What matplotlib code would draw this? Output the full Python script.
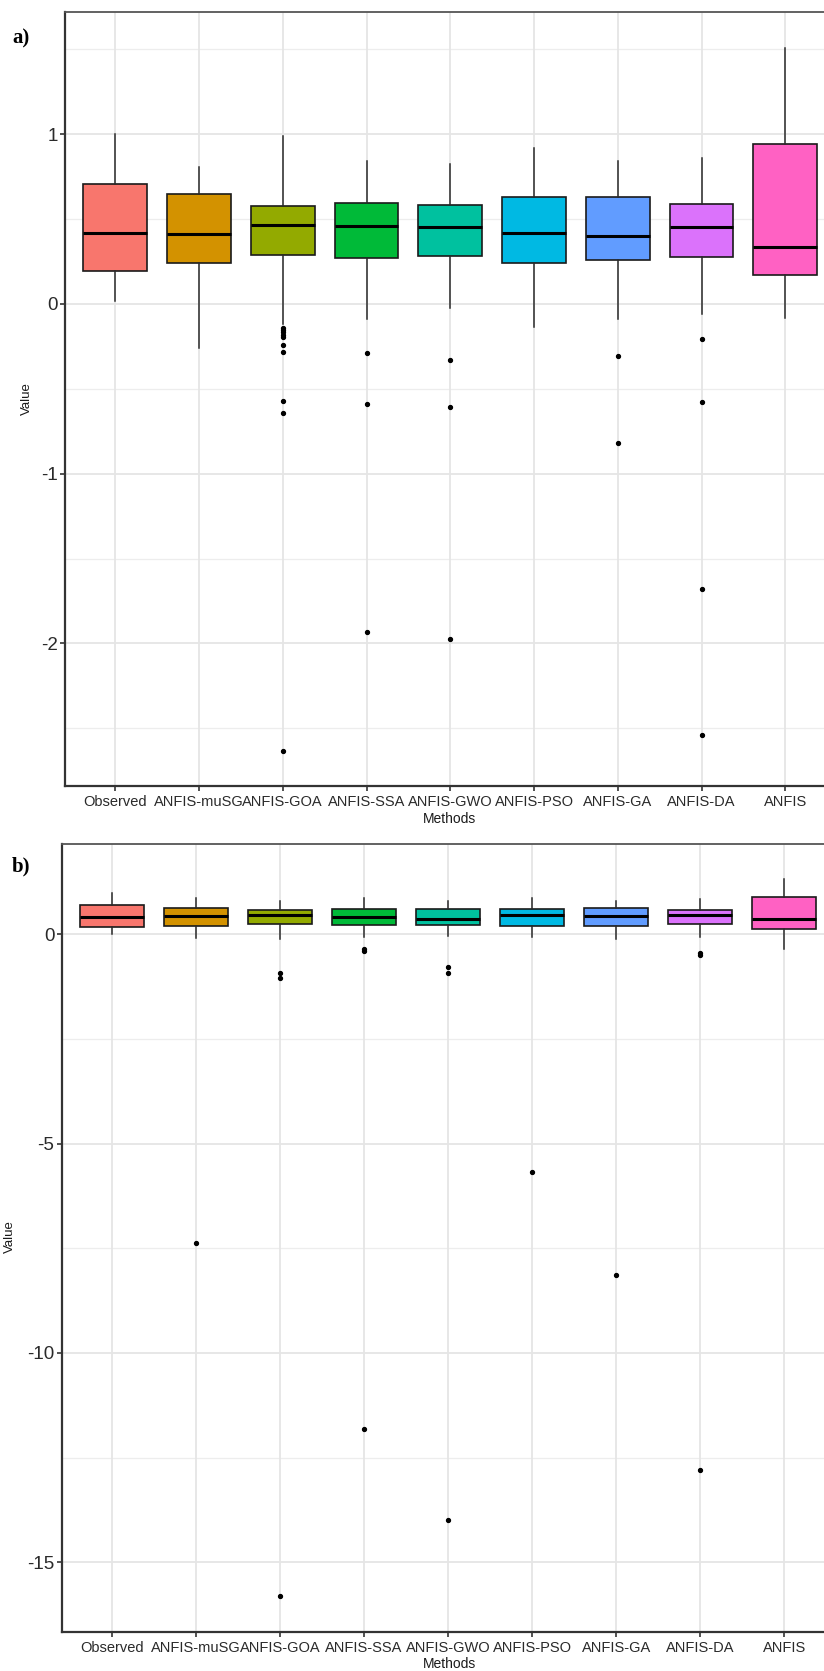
import matplotlib
matplotlib.use("Agg")
import matplotlib.pyplot as plt
from matplotlib.ticker import FixedLocator

plt.rcParams['font.family'] = ['Liberation Sans', 'DejaVu Sans']

methods = ["Observed", "ANFIS-muSG", "ANFIS-GOA", "ANFIS-SSA", "ANFIS-GWO",
           "ANFIS-PSO", "ANFIS-GA", "ANFIS-DA", "ANFIS"]
colors = ["#F8766D", "#D39200", "#93AA00", "#00BA38", "#00C19F",
          "#00B9E3", "#619CFF", "#DB72FB", "#FF61C3"]

# ---- panel a) ----
a_q1 = [0.196, 0.240, 0.291, 0.271, 0.285, 0.240, 0.257, 0.279, 0.169]
a_med = [0.420, 0.411, 0.464, 0.460, 0.456, 0.417, 0.403, 0.456, 0.338]
a_q3 = [0.709, 0.648, 0.578, 0.593, 0.583, 0.631, 0.631, 0.591, 0.943]
a_lo = [0.018, -0.261, -0.12, -0.088, -0.025, -0.137, -0.088, -0.061, -0.084]
a_hi = [1.000, 0.809, 0.990, 0.843, 0.823, 0.917, 0.843, 0.862, 1.510]
a_fliers = [
    [],
    [],
    [-0.143, -0.155, -0.168, -0.183, -0.196, -0.242, -0.285, -0.572, -0.642, -2.632],
    [-0.291, -0.587, -1.933],
    [-0.330, -0.609, -1.974],
    [],
    [-0.308, -0.817],
    [-0.204, -0.576, -1.679, -2.540],
    [],
]

# ---- panel b) ----
b_q1 = [0.17, 0.20, 0.25, 0.23, 0.23, 0.20, 0.20, 0.25, 0.13]
b_med = [0.42, 0.44, 0.47, 0.42, 0.37, 0.45, 0.43, 0.46, 0.36]
b_q3 = [0.70, 0.62, 0.58, 0.60, 0.60, 0.61, 0.64, 0.58, 0.88]
b_lo = [0.00, -0.10, -0.12, -0.06, -0.04, -0.07, -0.12, -0.07, -0.35]
b_hi = [0.98, 0.87, 0.80, 0.87, 0.80, 0.86, 0.80, 0.84, 1.31]
b_fliers = [
    [],
    [-7.37],
    [-0.92, -1.05, -15.80],
    [-0.35, -0.40, -11.81],
    [-0.79, -0.93, -13.98],
    [-5.68],
    [-8.13],
    [-0.45, -0.50, -12.79],
    [],
]

W, H = 824, 1671
fig = plt.figure(figsize=(W / 100, H / 100), dpi=100)
fig.patch.set_facecolor("white")


def px_axes(left, top, right, bottom):
    return fig.add_axes([left / W, 1 - bottom / H, (right - left) / W, (bottom - top) / H])


def draw_panel(ax, q1, med, q3, lo, hi, fliers, ylim, major, minor):
    stats = []
    for i in range(len(methods)):
        stats.append(dict(q1=q1[i], med=med[i], q3=q3[i], whislo=lo[i], whishi=hi[i],
                          fliers=fliers[i], label=methods[i]))
    pos = list(range(1, len(methods) + 1))
    # grid
    for y in minor:
        ax.axhline(y, color="#EDEDED", lw=0.9, zorder=0)
    for y in major:
        ax.axhline(y, color="#E5E5E5", lw=1.3, zorder=0)
    for x in pos:
        ax.axvline(x, color="#E5E5E5", lw=1.3, zorder=0)
    bp = ax.bxp(stats, positions=pos, widths=0.76, patch_artist=True,
                showcaps=False,
                boxprops=dict(edgecolor="#1a1a1a", linewidth=1.2),
                medianprops=dict(color="black", linewidth=2.2),
                whiskerprops=dict(color="#2a2a2a", linewidth=1.1),
                flierprops=dict(marker="o", markerfacecolor="black",
                                markeredgecolor="black", markersize=2.8),
                zorder=2)
    for patch, c in zip(bp["boxes"], colors):
        patch.set_facecolor(c)
    ax.set_xlim(0.4, 9.6)
    ax.set_ylim(*ylim)
    ax.set_xticks(pos)
    ax.set_xticklabels(methods, fontsize=10.5, color="#2a2a2a")
    ax.yaxis.set_major_locator(FixedLocator(major))
    ax.set_yticklabels([("%g" % v) for v in major], fontsize=13.5, color="#2a2a2a")
    ax.tick_params(axis="both", length=3.8, width=1.2, color="#333333")
    ax.tick_params(axis="x", pad=3)
    ax.tick_params(axis="y", pad=1.5)
    ax.spines["top"].set_color("#555555")
    ax.spines["top"].set_linewidth(1.3)
    ax.spines["right"].set_color("#555555")
    ax.spines["right"].set_linewidth(1.3)
    for s in ("left", "bottom"):
        ax.spines[s].set_color("#333333")
        ax.spines[s].set_linewidth(1.6)


ax_a = px_axes(65, 12, 835.5, 785.7)
draw_panel(ax_a, a_q1, a_med, a_q3, a_lo, a_hi, a_fliers, (-2.838, 1.72),
           [-2, -1, 0, 1], [-2.5, -1.5, -0.5, 0.5, 1.5])

ax_b = px_axes(61.7, 844, 834.5, 1631.7)
draw_panel(ax_b, b_q1, b_med, b_q3, b_lo, b_hi, b_fliers, (-16.66, 2.157),
           [-15, -10, -5, 0], [-12.5, -7.5, -2.5])

# labels
def ftext(x, y, s, **kw):
    fig.text(x / W, 1 - y / H, s, **kw)

ftext(449, 819, "Methods", ha="center", va="center", fontsize=10, color="#1a1a1a")
ftext(449, 1664, "Methods", ha="center", va="center", fontsize=10, color="#1a1a1a")
ftext(27, 399, "Value", ha="center", va="center", rotation=90, fontsize=9.5, color="#1a1a1a")
ftext(10, 1237, "Value", ha="center", va="center", rotation=90, fontsize=9.5, color="#1a1a1a")
ftext(12, 38, "a)", ha="left", va="center", fontsize=15, fontweight="bold",
      family=["Liberation Serif", "DejaVu Serif"])
ftext(12, 866, "b)", ha="left", va="center", fontsize=15, fontweight="bold",
      family=["Liberation Serif", "DejaVu Serif"])

fig.savefig("out.png", dpi=100, facecolor="white")
